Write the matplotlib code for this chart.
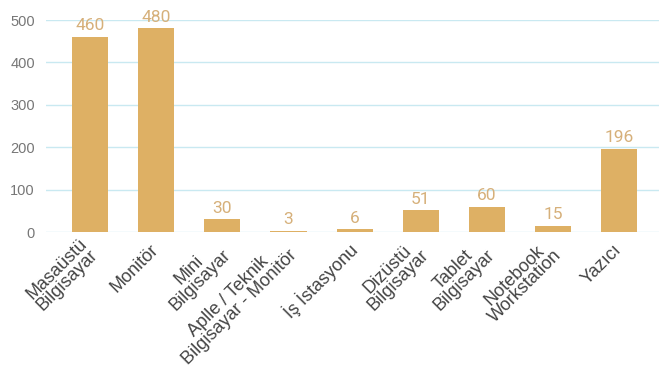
import matplotlib.pyplot as plt

categories = [
    "Masaüstü\nBilgisayar",
    "Monitör",
    "Mini\nBilgisayar",
    "Aplle / Teknik\nBilgisayar - Monitör",
    "İş İstasyonu",
    "Dizüstü\nBilgisayar",
    "Tablet\nBilgisayar",
    "Notebook\nWorkstation",
    "Yazıcı",
]
values = [460, 480, 30, 3, 6, 51, 60, 15, 196]
yticks = [0, 100, 200, 300, 400, 500]

bar_color = "#DEB064"
label_color = "#D6B07A"
grid_color = "#C9E9F1"

plt.rcParams["font.family"] = ["Liberation Sans", "DejaVu Sans"]

fig = plt.figure(figsize=(6.59, 3.74), dpi=100)
ax = fig.add_axes([46 / 659, 1 - 232 / 374, 613 / 659, 212 / 374])

x = list(range(len(categories)))
bars = ax.bar(x, values, width=0.545, color=bar_color, zorder=2)

for b, v in zip(bars, values):
    ax.annotate(str(v), (b.get_x() + b.get_width() / 2, v),
                xytext=(0, 2.5), textcoords="offset points",
                ha="center", va="bottom", fontsize=12.5, color=label_color,
                family=["Roboto", "DejaVu Sans"])

ax.set_xlim(-0.665, 8.6)
ax.set_ylim(0, 500)
ax.set_yticks(yticks)
ax.yaxis.grid(True, color=grid_color, linewidth=1, zorder=0)
for s in ax.spines.values():
    s.set_visible(False)
ax.tick_params(axis="both", length=0, colors="#777777", labelsize=10.5)
ax.tick_params(axis="y", pad=8)

ax.set_xticks(x)
ax.set_xticklabels(categories, rotation=45, ha="right", va="center",
                   rotation_mode="anchor", multialignment="center",
                   fontsize=13, color="#444444", linespacing=0.88)
ax.tick_params(axis="x", pad=11)

fig.savefig("out.png", dpi=100)
